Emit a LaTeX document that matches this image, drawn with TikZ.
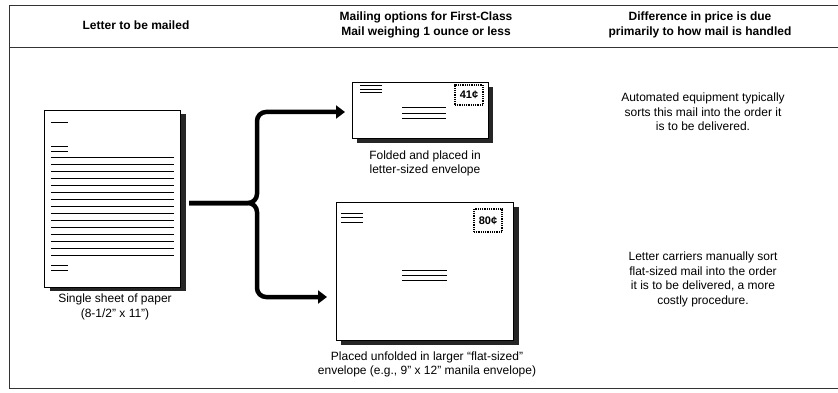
\documentclass[tikz,border=0pt]{standalone}
\usepackage{fontspec}
\setmainfont{Liberation Sans}
\usetikzlibrary{arrows.meta}
\begin{document}
\begin{tikzpicture}[x=1pt,y=-1pt,
  frameline/.style={line width=0.9pt, draw=black!80},
  sheet/.style={draw=black, line width=0.9pt, fill=white, inner sep=0pt, outer sep=0pt},
  shade/.style={fill=black!85, draw=none},
  txt/.style={align=center, font=\fontsize{12}{14.5}\selectfont, inner sep=0pt},
  hdr/.style={align=center, font=\bfseries\fontsize{12}{15}\selectfont, inner sep=0pt},
  textline/.style={line width=1pt},
  conn/.style={line width=4.5pt, rounded corners=9pt, -{Triangle[length=9pt,width=13pt]}},
  stamp/.style={draw=black, line width=1.4pt, dash pattern=on 1pt off 0.8pt, inner sep=1pt, font=\bfseries\fontsize{11}{11}\selectfont, minimum width=28pt}
]
\useasboundingbox (0,0) rectangle (838,393);

% frame
\draw[frameline] (838,5) -- (9,5) -- (9,388) -- (838,388);
\draw[frameline] (9,47) -- (838,47);

% headers
\node[hdr] (h1) at (136,25) {Letter to be mailed};
\node[hdr] (h2) at (426,25) {Mailing options for First-Class\\Mail weighing 1 ounce or less};
\node[hdr] (h3) at (700,25) {Difference in price is due\\primarily to how mail is handled};

% letter
\path[shade] (50,114) rectangle (186,291);
\node[sheet, minimum width=136pt, minimum height=177pt] (letter) at (112,198.5) {};
\foreach \yy in {123,147,152,265,270} \draw[textline] (51,\yy) -- (68,\yy);
\foreach \i in {0,...,14} \draw[textline] (51,{158+\i*6.93}) -- (174,{158+\i*6.93});
\node[txt] (l1) at (115,307) {Single sheet of paper\\(8-1/2" x 11")};

% envelope 1
\path[shade] (357,87) rectangle (493,143);
\node[sheet, minimum width=136pt, minimum height=56pt] (env1) at (420,110) {};
\node[stamp, minimum height=20pt] (st1) at (469,95) {41¢};
\foreach \yy in {86,89.5,93} \draw[textline] (360,\yy) -- (382,\yy);
\foreach \yy in {108,113.5,119} \draw[textline] (402,\yy) -- (446,\yy);
\node[txt] (l2) at (425,163.5) {Folded and placed in\\letter-sized envelope};

% envelope 2
\path[shade] (341,207) rectangle (519,345);
\node[sheet, minimum width=177pt, minimum height=138pt] (env2) at (424.5,271) {};
\node[stamp, minimum height=23pt] (st2) at (488,220.5) {80¢};
\foreach \yy in {213,217.5,222} \draw[textline] (341,\yy) -- (363,\yy);
\foreach \yy in {270,275,280} \draw[textline] (402,\yy) -- (447,\yy);
\node[txt] (l3) at (427,364.5) {Placed unfolded in larger “flat-sized”\\envelope (e.g., 9" x 12" manila envelope)};

% connectors
\coordinate (s) at (189,203);
\coordinate (j) at (257,203);
\coordinate (t1) at (345,112);
\coordinate (t2) at (327,297);
\draw[conn] (s) -- (j) -- (j |- t1) -- (t1);
\draw[conn] (s) -- (j) -- (j |- t2) -- (t2);

% right column
\node[txt] (r1) at (703,112) {Automated equipment typically\\sorts this mail into the order it\\is to be delivered.};
\node[txt] (r2) at (703,279.5) {Letter carriers manually sort\\flat-sized mail into the order\\it is to be delivered, a more\\costly procedure.};
\end{tikzpicture}
\end{document}
